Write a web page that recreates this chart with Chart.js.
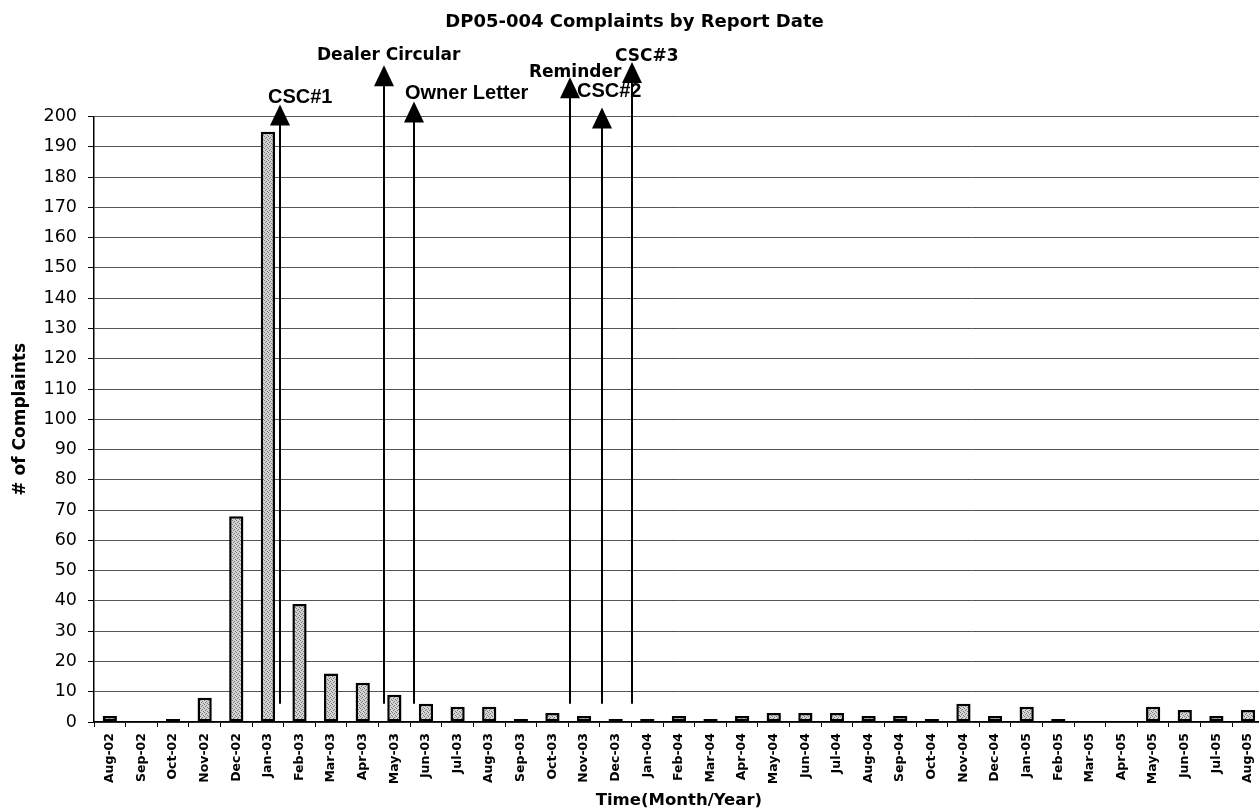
<!DOCTYPE html>
<html>
<head>
<meta charset="utf-8">
<title>DP05-004 Complaints by Report Date</title>
<script src="https://cdn.jsdelivr.net/npm/chart.js@4/dist/chart.umd.min.js"></script>
<style>
  html, body { margin: 0; padding: 0; background: #fff; overflow: hidden; }
  #wrap { width: 1269px; height: 809px; }
</style>
</head>
<body>
<div id="wrap"><canvas id="complaintChart" width="1269" height="809"></canvas></div>
<script>
// monthly complaint counts
const months = ['Aug-02', 'Sep-02', 'Oct-02', 'Nov-02', 'Dec-02', 'Jan-03', 'Feb-03', 'Mar-03', 'Apr-03', 'May-03',
    'Jun-03', 'Jul-03', 'Aug-03', 'Sep-03', 'Oct-03', 'Nov-03', 'Dec-03', 'Jan-04', 'Feb-04', 'Mar-04',
    'Apr-04', 'May-04', 'Jun-04', 'Jul-04', 'Aug-04', 'Sep-04', 'Oct-04', 'Nov-04', 'Dec-04', 'Jan-05',
    'Feb-05', 'Mar-05', 'Apr-05', 'May-05', 'Jun-05', 'Jul-05', 'Aug-05'];
const complaints = [2, 0, 1, 8, 68, 195, 39, 16, 13, 9,
    6, 5, 5, 1, 3, 2, 1, 1, 2, 1,
    2, 3, 3, 3, 2, 2, 1, 6, 2, 5,
    1, 0, 0, 5, 4, 2, 4];
const yMax = 200;
const yStep = 10;

// campaign events: where they sit on the month axis (index) and how high the arrow reaches
const eventNames = ['CSC#1', 'Dealer Circular', 'Owner Letter', 'Reminder', 'CSC#2', 'CSC#3'];
const eventAt = [5.38, 8.68, 9.63, 14.56, 15.57, 16.53];
const eventTop = [204, 217, 205, 213, 203, 218];
const eventBase = 6;

// label placement next to each arrow tip (px)
const wide = 'bold 17px "DejaVu Sans"';
const narrow = 'bold 20px "Liberation Sans"';
const eventLabelStyle = [
    { dx: -12, dy: -1, font: narrow },
    { dx: -67, dy: -5, font: wide },
    { dx: -9, dy: -2, font: narrow },
    { dx: -41, dy: 0, font: wide },
    { dx: -25, dy: -11, font: narrow },
    { dx: -17, dy: -1, font: wide }
];

function stipple() {
    const c = document.createElement('canvas');
    c.width = 4;
    c.height = 4;
    const g = c.getContext('2d');
    g.fillStyle = '#d4d4d4';
    g.fillRect(0, 0, 4, 4);
    g.fillStyle = '#777';
    g.fillRect(0, 0, 1, 1);
    g.fillRect(2, 1, 1, 1);
    g.fillRect(1, 2, 1, 1);
    g.fillRect(3, 3, 1, 1);
    return g.createPattern(c, 'repeat');
}

const eventArrows = {
    id: 'eventArrows',
    afterDatasetsDraw(chart) {
        const { ctx, scales: { x, y } } = chart;
        ctx.save();
        ctx.strokeStyle = '#000';
        ctx.fillStyle = '#000';
        ctx.lineWidth = 2;
        eventNames.forEach((name, i) => {
            const px = Math.round(x.getPixelForValue(eventAt[i]));
            const tip = y.getPixelForValue(eventTop[i]);
            const base = y.getPixelForValue(eventBase);
            ctx.beginPath();
            ctx.moveTo(px, base);
            ctx.lineTo(px, tip + 18);
            ctx.stroke();
            ctx.beginPath();
            ctx.moveTo(px, tip);
            ctx.lineTo(px - 10, tip + 21);
            ctx.lineTo(px + 10, tip + 21);
            ctx.closePath();
            ctx.fill();

            const s = eventLabelStyle[i];
            ctx.font = s.font;
            ctx.textAlign = 'left';
            ctx.textBaseline = 'alphabetic';
            ctx.fillText(name, px + s.dx, tip + s.dy);
        });
        ctx.restore();
    }
};

Chart.defaults.font.family = '"DejaVu Sans", sans-serif';
Chart.defaults.color = '#000';

const ctx = document.getElementById('complaintChart').getContext('2d');
new Chart(ctx, {
    type: 'bar',
    data: {
        labels: months,
        datasets: [{
            label: '# of Complaints',
            data: complaints,
            backgroundColor: stipple(),
            borderColor: '#000',
            borderWidth: 2.5,
            borderSkipped: false,
            barPercentage: 0.45,
            categoryPercentage: 1
        }]
    },
    options: {
        responsive: false,
        devicePixelRatio: 1,
        animation: false,
        layout: { padding: 0 },
        scales: {
            x: {
                grid: {
                    display: true,
                    drawOnChartArea: false,
                    drawTicks: true,
                    tickLength: 5,
                    tickColor: '#000'
                },
                border: { display: true, color: '#000', width: 1.5 },
                ticks: {
                    autoSkip: false,
                    minRotation: 90,
                    maxRotation: 90,
                    padding: 6,
                    font: { size: 12.5, weight: 'bold' }
                },
                title: {
                    display: true,
                    text: 'Time(Month/Year)',
                    font: { size: 16.5, weight: 'bold', lineHeight: 1 },
                    padding: { top: 0, bottom: 0 }
                },
                afterFit(scale) { scale.height = 87; }
            },
            y: {
                min: 0,
                max: yMax,
                grid: {
                    color: '#555',
                    lineWidth: 1,
                    tickLength: 6,
                    tickColor: '#000'
                },
                border: { display: true, color: '#000', width: 1.5 },
                ticks: {
                    stepSize: yStep,
                    padding: 11,
                    font: { size: 17.5 }
                },
                title: {
                    display: true,
                    text: '# of Complaints',
                    font: { size: 17, weight: 'bold' },
                    padding: { top: 10, bottom: 0 }
                },
                afterFit(scale) { scale.width = 94; }
            }
        },
        plugins: {
            legend: { display: false },
            tooltip: { enabled: false },
            title: {
                display: true,
                text: 'DP05-004 Complaints by Report Date',
                color: '#000',
                font: { size: 18, weight: 'bold' },
                padding: { top: 12, bottom: 83 }
            }
        }
    },
    plugins: [eventArrows]
});
</script>
</body>
</html>
